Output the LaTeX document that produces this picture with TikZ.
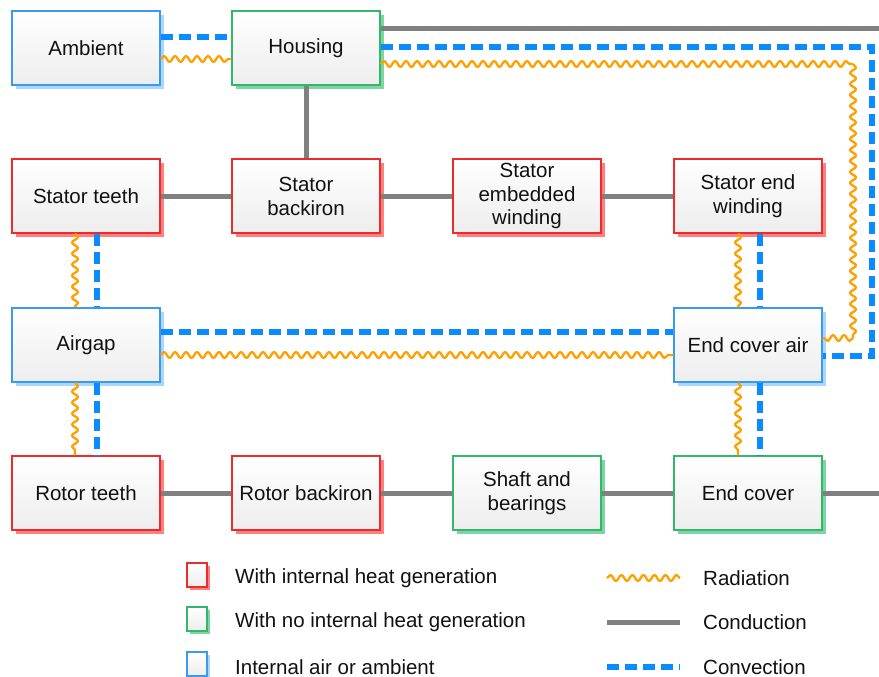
\documentclass[tikz,border=0pt]{standalone}
\usepackage{fontspec}
\setmainfont{Liberation Sans}
\usetikzlibrary{shadows,decorations.pathmorphing,calc}
\definecolor{redb}{HTML}{EE2A2A}
\definecolor{reds}{HTML}{FF8080}
\definecolor{greenb}{HTML}{33B86A}
\definecolor{greens}{HTML}{80D4A4}
\definecolor{blueb}{HTML}{3A9AEE}
\definecolor{blues}{HTML}{AAD6FF}
\definecolor{condc}{HTML}{808080}
\definecolor{convc}{HTML}{0A8CFF}
\definecolor{radc}{HTML}{FFA000}
\definecolor{txt}{HTML}{111111}
\tikzset{
  box/.style={rectangle, minimum width=148pt, minimum height=74pt, inner sep=0pt,
    top color=white, bottom color=black!7, line width=1.2pt, align=center,
    text=txt, font=\fontsize{20.5}{24}\selectfont},
  hgen/.style={box, draw=redb, drop shadow={shadow xshift=4pt, shadow yshift=-4pt, fill=reds, opacity=1}},
  nogen/.style={box, draw=greenb, drop shadow={shadow xshift=4pt, shadow yshift=-4pt, fill=greens, opacity=1}},
  air/.style={box, draw=blueb, drop shadow={shadow xshift=4pt, shadow yshift=-4pt, fill=blues, opacity=1}},
  lgbox/.style={rectangle, minimum width=20pt, minimum height=24pt, inner sep=0pt, line width=1.2pt,
    top color=white, bottom color=black!7},
  lgh/.style={lgbox, draw=redb, drop shadow={shadow xshift=3pt, shadow yshift=-3pt, fill=reds, opacity=1}},
  lgn/.style={lgbox, draw=greenb, drop shadow={shadow xshift=3pt, shadow yshift=-3pt, fill=greens, opacity=1}},
  lga/.style={lgbox, draw=blueb, drop shadow={shadow xshift=3pt, shadow yshift=-3pt, fill=blues, opacity=1}},
  lgtext/.style={anchor=west, inner sep=0pt, text=txt, font=\fontsize{20.5}{24}\selectfont},
  cond/.style={draw=condc, line width=5pt},
  conv/.style={draw=convc, line width=5.5pt, dash pattern=on 12pt off 6pt},
  rad/.style={draw=radc, line width=2.3pt, line join=round, decorate, decoration={snake, segment length=11pt, amplitude=3pt}},
}
\begin{document}
\begin{tikzpicture}[x=1pt, y=-1pt]
\useasboundingbox (0,0) rectangle (879,677);
\fill[white] (0,0) rectangle (879,677);
% nodes
\node[air]   (amb) at (86,48)    {Ambient};
\node[nogen] (hou) at (306,48)   {Housing};
\node[hgen]  (st)  at (86,196)   {Stator teeth};
\node[hgen]  (sb)  at (306,196)  {Stator\\backiron};
\node[hgen, font=\fontsize{20.5}{23.5}\selectfont]  (sew) at (527,196)  {Stator\\embedded\\winding};
\node[hgen]  (sen) at (748,196)  {Stator end\\winding};
\node[air]   (ag)  at (86,345)   {Airgap};
\node[air]   (eca) at (748,345)  {End cover air};
\node[hgen]  (rt)  at (86,493)   {Rotor teeth};
\node[hgen]  (rb)  at (306,493)  {Rotor backiron};
\node[nogen] (sh)  at (527,493)  {Shaft and\\bearings};
\node[nogen] (ec)  at (748,493)  {End cover};
\coordinate (hedge) at (879,29);
\coordinate (eedge) at (879,493);
\coordinate (cvA) at (872,47);
\coordinate (cvB) at (872,356);
\coordinate (rdA) at (853,64);
\coordinate (rdB) at (853,338);
% connectors
\path[conv] (amb.east |- 0,37) -- (hou.west |- 0,37);
\path[rad]  (amb.east |- 0,59) -- (hou.west |- 0,59);
\path[cond] (hou.east |- 0,29) -- (hedge);
\path[conv] (hou.east |- 0,47) -- (cvA) -- (cvB) -- (eca.east |- cvB);
\path[rad]  (hou.east |- 0,64) -- (rdA);
\path[rad]  (rdA) -- (rdB);
\path[rad]  (rdB) -- (eca.east |- rdB);
\path[cond] (hou.south) -- (sb.north);
\path[cond] (st) -- (sb);
\path[cond] (sb) -- (sew);
\path[cond] (sew) -- (sen);
\path[rad]  (st.south -| 75,0) -- (ag.north -| 75,0);
\path[conv] (st.south -| 97,0) -- (ag.north -| 97,0);
\path[rad]  (ag.south -| 75,0) -- (rt.north -| 75,0);
\path[conv] (ag.south -| 97,0) -- (rt.north -| 97,0);
\path[conv] (ag.east |- 0,332) -- (eca.west |- 0,332);
\path[rad]  (ag.east |- 0,355) -- (eca.west |- 0,355);
\path[rad]  (sen.south -| 738,0) -- (eca.north -| 738,0);
\path[conv] (sen.south -| 760,0) -- (eca.north -| 760,0);
\path[rad]  (eca.south -| 738,0) -- (ec.north -| 738,0);
\path[conv] (eca.south -| 760,0) -- (ec.north -| 760,0);
\path[cond] (rt) -- (rb);
\path[cond] (rb) -- (sh);
\path[cond] (sh) -- (ec);
\path[cond] (ec.east) -- (eedge);
% legend
\node[lgh] (l1) at (197,575) {};
\node[lgn] (l2) at (197,619) {};
\node[lga] (l3) at (197,664) {};
\node[lgtext] (t1) at (235,578) {With internal heat generation};
\node[lgtext] (t2) at (235,622) {With no internal heat generation};
\node[lgtext] (t3) at (235,667) {Internal air or ambient};
\coordinate (r1) at (607,578);
\coordinate (r2) at (680,578);
\coordinate (c1) at (607,622);
\coordinate (c2) at (680,622);
\coordinate (v1) at (607,667);
\coordinate (v2) at (680,667);
\path[rad]  (r1) -- (r2);
\path[cond] (c1) -- (c2);
\path[conv] (v1) -- (v2);
\node[lgtext] (t4) at (703,578) {Radiation};
\node[lgtext] (t5) at (703,622) {Conduction};
\node[lgtext] (t6) at (703,667) {Convection};
\end{tikzpicture}
\end{document}
